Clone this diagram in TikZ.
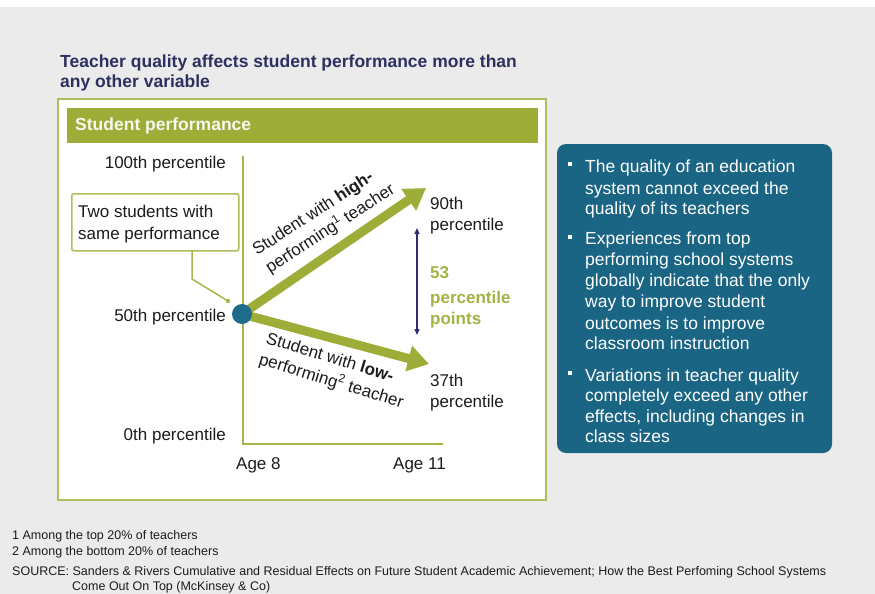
\documentclass[tikz,border=0pt]{standalone}
\usepackage{fontspec}
\setmainfont{Liberation Sans}
\usetikzlibrary{arrows.meta}
\definecolor{bg}{HTML}{EBEBEB}
\definecolor{olive}{HTML}{9DAD38}
\definecolor{oliveline}{HTML}{B3BC5C}
\definecolor{oliveaxis}{HTML}{A9B54A}
\definecolor{oliveText}{HTML}{A5B244}
\definecolor{teal}{HTML}{1B6584}
\definecolor{dotteal}{HTML}{1F6B8A}
\definecolor{navy}{HTML}{2D2F6C}
\definecolor{titlecol}{HTML}{2E3060}
\definecolor{txt}{HTML}{1C1C1C}
\begin{document}
\begin{tikzpicture}[x=1pt,y=-1pt,
  lbl/.style={inner sep=0pt,text=txt,font=\fontsize{17}{21}\selectfont},
  boxtxt/.style={inner sep=0pt,text=white,anchor=base west,font=\fontsize{17.5}{21}\selectfont},
  foot/.style={inner sep=0pt,text=txt,anchor=base west,font=\fontsize{12.5}{15}\selectfont},
  bigarrow/.style={line width=9pt,draw=olive,-{Triangle[length=21pt,width=25pt]}},
  bulletsq/.style={fill=white,inner sep=0pt,minimum size=4pt}
]
\useasboundingbox (0,0) rectangle (875,594);
\fill[bg] (0,0) rectangle (875,594);
\fill[white] (0,0) rectangle (875,7);

% title
\node[anchor=base west,inner sep=0pt,text=titlecol,font=\bfseries\fontsize{17.5}{21}\selectfont] (t1) at (60,67) {Teacher quality affects student performance more than};
\node[anchor=base west,inner sep=0pt,text=titlecol,font=\bfseries\fontsize{17.5}{21}\selectfont] (t2) at (60,87) {any other variable};

% frame
\draw[oliveline,line width=1.5pt,fill=white] (58,99) rectangle (546,500);
\fill[olive] (67,108) rectangle (538,143);
\node[anchor=west,inner sep=0pt,text=white!92!olive,font=\bfseries\fontsize{17.5}{21}\selectfont] (hdr) at (75,126) {Student performance};

% axes
\coordinate (ytop) at (243,156);
\coordinate (origin) at (243,444);
\coordinate (xend) at (443,444);
\draw[oliveaxis,line width=2pt] (ytop) -- (origin) -- (xend);

% axis labels
\node[lbl,anchor=base east] (p100) at (226,168) {100th percentile};
\node[lbl,anchor=base east] (p50) at (226,321) {50th percentile};
\node[lbl,anchor=base east] (p0) at (226,440) {0th percentile};
\node[lbl,anchor=base west] (a8) at (236,469) {Age 8};
\node[lbl,anchor=base east] (a11) at (446,469) {Age 11};

% callout
\node[draw=oliveline,line width=1.5pt,fill=white,rounded corners=2pt,minimum width=167pt,minimum height=57pt,anchor=north west,inner sep=0pt] (call) at (71,193) {};
\node[lbl,anchor=base west] (c1) at (78,217) {Two students with};
\node[lbl,anchor=base west] (c2) at (78,239) {same performance};
\coordinate (lk1) at (192,250);
\coordinate (lk2) at (192,279);
\coordinate (lk3) at (228,301);
\draw[oliveaxis,line width=1.5pt] (lk1) -- (lk2) -- (lk3);
\fill[oliveaxis] (lk3) circle (2.2);

% arrows
\coordinate (start) at (242,314);
\coordinate (hitip) at (426,188);
\coordinate (lotip) at (429,364);
\draw[bigarrow] (start) -- (hitip);
\draw[bigarrow] (start) -- (lotip);
\node[circle,fill=dotteal,minimum size=20pt,inner sep=0pt] (dot) at (start) {};

% arrow labels
\node[lbl,anchor=base west,rotate=33] (h1) at (257,256) {Student with \textbf{high-}};
\node[lbl,anchor=base west,rotate=33] (h2) at (270,274) {performing\textsuperscript{1} teacher};
\node[lbl,anchor=base west,rotate=-17] (l1) at (265,343) {Student with \textbf{low-}};
\node[lbl,anchor=base west,rotate=-17] (l2) at (258,364) {performing\textsuperscript{2} teacher};

% right labels
\node[lbl,anchor=base west] (n90a) at (430,209) {90th};
\node[lbl,anchor=base west] (n90b) at (430,230) {percentile};
\node[lbl,anchor=base west,text=oliveText,font=\bfseries\fontsize{17}{21}\selectfont] (d1) at (430,278) {53};
\node[lbl,anchor=base west,text=oliveText,font=\bfseries\fontsize{17}{21}\selectfont] (d2) at (430,303) {percentile};
\node[lbl,anchor=base west,text=oliveText,font=\bfseries\fontsize{17}{21}\selectfont] (d3) at (430,324) {points};
\node[lbl,anchor=base west] (n37a) at (430,386) {37th};
\node[lbl,anchor=base west] (n37b) at (430,407) {percentile};
\coordinate (dtop) at (417,228);
\coordinate (dbot) at (417,335);
\draw[navy,line width=1.3pt,{Triangle[length=6pt,width=5pt]}-{Triangle[length=6pt,width=5pt]}] (dtop) -- (dbot);

% right box
\fill[teal,rounded corners=9pt] (557,144) rectangle (832,453);
\node[bulletsq] (b1) at (570,164) {};
\node[bulletsq] (b2) at (570,237) {};
\node[bulletsq] (b3) at (570,373) {};
\foreach \yy/\tt [count=\i] in {172/{The quality of an education},194/{system cannot exceed the},214/{quality of its teachers},
  244/{Experiences from top},265/{performing school systems},286/{globally indicate that the only},307/{way to improve student},329/{outcomes is to improve},349/{classroom instruction},
  381/{Variations in teacher quality},401/{completely exceed any other},422/{effects, including changes in},442/{class sizes}}
  \node[boxtxt] (r\i) at (585,\yy) {\tt};

% footnotes
\node[foot] (f1) at (12,539) {1 Among the top 20\% of teachers};
\node[foot] (f2) at (12,555) {2 Among the bottom 20\% of teachers};
\node[foot] (f3) at (12,575) {SOURCE: Sanders \& Rivers Cumulative and Residual Effects on Future Student Academic Achievement; How the Best Perfoming School Systems};
\node[foot] (f4) at (72,590) {Come Out On Top (McKinsey \& Co)};
\end{tikzpicture}
\end{document}
